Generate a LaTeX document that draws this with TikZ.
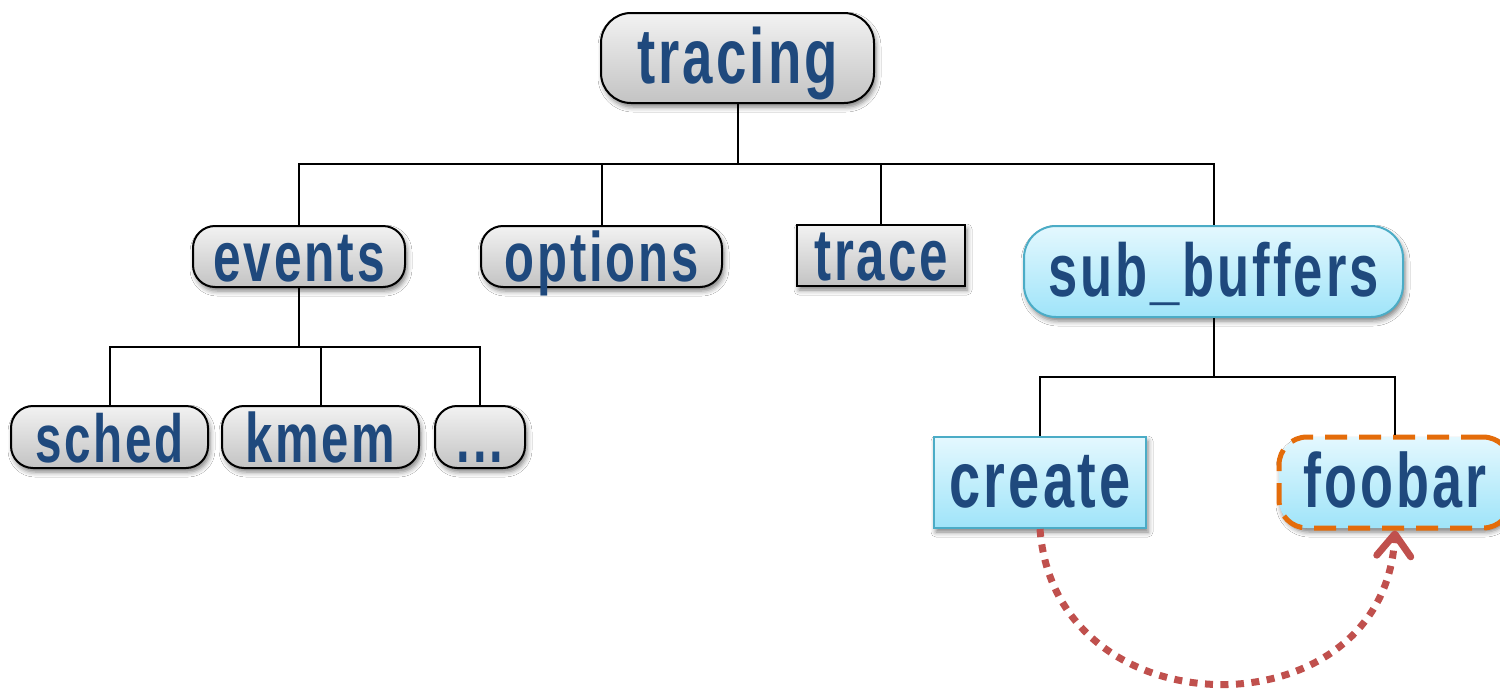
\documentclass[tikz,border=0pt]{standalone}
\usepackage{fontspec}
\newfontfamily\treefont{Liberation Sans}[FakeStretch=0.70, LetterSpace=4]
\usetikzlibrary{shadows.blur,arrows.meta}

\definecolor{labelblue}{HTML}{1F497D}
\definecolor{greytop}{HTML}{F2F2F2}
\definecolor{greybot}{HTML}{C3C3C3}
\definecolor{cyantop}{HTML}{E4F8FE}
\definecolor{cyanbot}{HTML}{9FE4F9}
\definecolor{cyanedge}{HTML}{4BACC6}
\definecolor{orangeedge}{HTML}{E46C0A}
\definecolor{arrowred}{HTML}{C0504D}

\tikzset{
  box/.style={inner sep=0pt, text=labelblue, line width=2pt,
    text height=51pt, text depth=1pt,
    blur shadow={shadow xshift=2pt, shadow yshift=-4pt,
      shadow blur radius=5pt, shadow opacity=50}},
  greybox/.style={box, draw=black, top color=greytop, bottom color=greybot},
  cyanbox/.style={box, draw=cyanedge, top color=cyantop, bottom color=cyanbot},
  fs/.style={font=\treefont\bfseries\fontsize{#1pt}{#1pt}\selectfont},
  edge/.style={line width=2pt, draw=black},
  link/.style={draw=arrowred, line width=7pt, dash pattern=on 8pt off 7.5pt,
    -{Straight Barb[round, length=22pt, width=34pt]}}
}

\begin{document}
\begin{tikzpicture}[x=1pt, y=-1pt]
  \fill[white] (0,0) rectangle (1500,691);
  \useasboundingbox (0,0) rectangle (1500,691);

  % root
  \node[greybox, rounded corners=30pt, minimum width=273pt, minimum height=90pt, fs=78]
    (tracing) at (737.5,58) {tracing};

  % second level
  \node[greybox, rounded corners=22pt, minimum width=212pt, minimum height=61pt, fs=71]
    (events) at (299,256.5) {events};
  \node[greybox, rounded corners=22pt, minimum width=241pt, minimum height=61pt, fs=70]
    (options) at (601.5,256.5) {options};
  \node[greybox, minimum width=168pt, minimum height=61pt, fs=73]
    (trace) at (881,255.5) {trace};
  \node[cyanbox, rounded corners=32pt, minimum width=379pt, minimum height=91pt, fs=75]
    (subbuffers) at (1213.5,271.5) {sub\_buffers};

  % events children
  \node[greybox, rounded corners=22pt, minimum width=197pt, minimum height=62pt, fs=68]
    (sched) at (109.5,437) {sched};
  \node[greybox, rounded corners=22pt, minimum width=197pt, minimum height=62pt, fs=70]
    (kmem) at (320.5,437) {kmem};
  \node[greybox, rounded corners=22pt, minimum width=90pt, minimum height=62pt, fs=70]
    (more) at (480,437) {...};

  % sub_buffers children
  \node[cyanbox, minimum width=212pt, minimum height=91pt, fs=80]
    (create) at (1040,482.5) {create};
  \node[cyanbox, draw=orangeedge, line width=5pt, dash pattern=on 22pt off 12pt,
    rounded corners=28pt, minimum width=232pt, minimum height=91pt, fs=77]
    (foobar) at (1395,482.5) {foobar};

  % tree connectors
  \foreach \c in {events,options,trace,subbuffers}
    \draw[edge] (tracing.south) -- ++(0,60) -| (\c.north);
  \foreach \c in {sched,kmem,more}
    \draw[edge] (events.south) -- ++(0,59) -| (\c.north);
  \foreach \c in {create,foobar}
    \draw[edge] (subbuffers.south) -- ++(0,59) -| (\c.north);

  % create -> foobar
  \draw[link] (create.south) .. controls (1055,735) and (1385,735) .. (foobar.south);
\end{tikzpicture}
\end{document}
